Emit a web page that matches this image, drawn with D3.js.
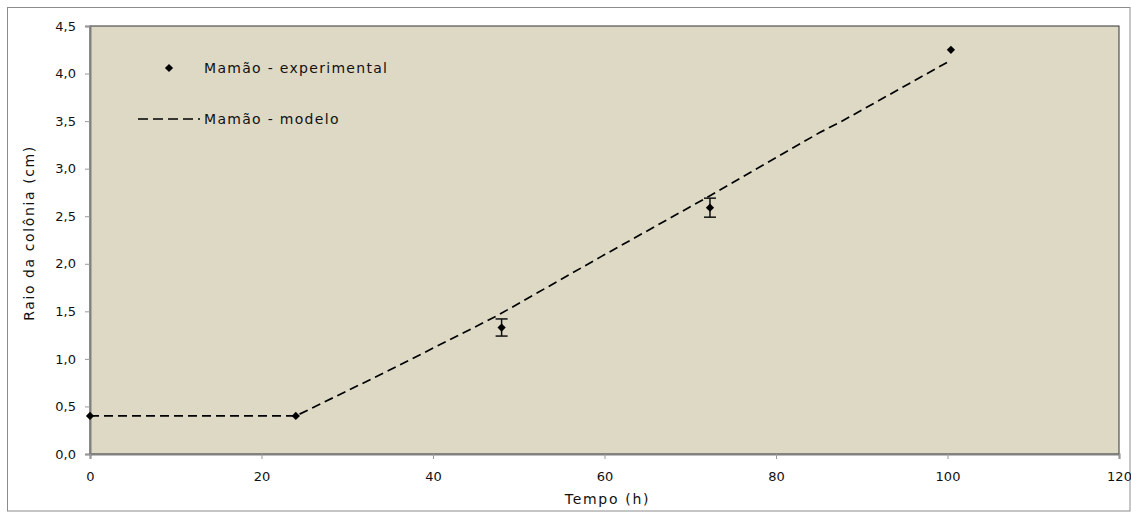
<!DOCTYPE html>
<html>
<head>
<meta charset="utf-8">
<script src="https://cdn.jsdelivr.net/npm/d3@7"></script>
<style>
  body { margin: 0; background: #fff; }
  text { font-family: "DejaVu Sans", Verdana, sans-serif; fill: #111; }
</style>
</head>
<body>
<div id="chart"></div>
<script>
// experimental points: time (h), radius (cm), error
var expTime = [0, 24, 48, 72.3, 100.4];
var expRaio = [0.4, 0.4, 1.33, 2.59, 4.25];
var expErro = [0, 0, 0.09, 0.1, 0];

// model curve
var modTime = [0, 24, 31.5, 36, 47.4, 59.5, 72, 85.1, 87.5, 100.4];
var modRaio = [0.4, 0.4, 0.73, 0.93, 1.45, 2.07, 2.7, 3.38, 3.49, 4.14];

var xTicks = [0, 20, 40, 60, 80, 100, 120];
var yTicks = [0, 0.5, 1, 1.5, 2, 2.5, 3, 3.5, 4, 4.5];

function init() {
    var w = 1131, h = 512;
    var left = 90, right = 1119, top = 26, bottom = 454;

    var svg = d3.select("#chart").append("svg")
        .attr("width", w).attr("height", h);

    // outer frame
    svg.append("rect")
        .attr("x", 7.5).attr("y", 7.5)
        .attr("width", 1130 - 7.5).attr("height", 511 - 7.5)
        .attr("fill", "#fff").attr("stroke", "#8c8c8c").attr("stroke-width", 1);

    var x = d3.scaleLinear().domain([0, 120]).range([left, right]);
    var y = d3.scaleLinear().domain([0, 4.5]).range([bottom, top]);

    // plot area
    svg.append("rect")
        .attr("x", left).attr("y", top)
        .attr("width", right - left).attr("height", bottom - top)
        .attr("fill", "#ddd9c4")
        .attr("stroke", "#333").attr("stroke-width", 1);

    var fmt = function(d) { return d3.format(".1f")(d).replace(".", ","); };

    var yAxis = svg.append("g")
        .attr("transform", "translate(" + left + ",0)")
        .call(d3.axisLeft(y).tickValues(yTicks).tickFormat(fmt).tickSize(5).tickPadding(9));
    var xAxis = svg.append("g")
        .attr("transform", "translate(0," + bottom + ")")
        .call(d3.axisBottom(x).tickValues(xTicks).tickFormat(d3.format("d")).tickSize(5).tickPadding(13));

    [yAxis, xAxis].forEach(function(a) {
        a.select(".domain").attr("stroke", "#808080").attr("stroke-width", 2);
        a.selectAll(".tick line").attr("stroke", "#999");
        a.selectAll(".tick text").style("font-size", "13px").attr("fill", "#111");
    });

    // model line
    var line = d3.line()
        .x(function(d, i) { return x(modTime[i]); })
        .y(function(d, i) { return y(modRaio[i]); });
    svg.append("path")
        .datum(modRaio)
        .attr("d", line)
        .attr("fill", "none")
        .attr("stroke", "#000")
        .attr("stroke-width", 1.7)
        .attr("stroke-dasharray", "9,5");

    // error bars
    var eb = svg.append("g").attr("stroke", "#111").attr("stroke-width", 1.5);
    expTime.forEach(function(t, i) {
        if (!expErro[i]) return;
        var cx = x(t), y1 = y(expRaio[i] + expErro[i]), y2 = y(expRaio[i] - expErro[i]);
        eb.append("line").attr("x1", cx).attr("x2", cx).attr("y1", y1).attr("y2", y2);
        eb.append("line").attr("x1", cx - 6).attr("x2", cx + 6).attr("y1", y1).attr("y2", y1);
        eb.append("line").attr("x1", cx - 6).attr("x2", cx + 6).attr("y1", y2).attr("y2", y2);
    });

    // experimental points (square turned 45 degrees)
    var diamond = d3.symbol().type(d3.symbolSquare).size(34);
    svg.selectAll("path.pt")
        .data(expRaio)
        .enter()
        .append("path")
        .attr("class", "pt")
        .attr("d", diamond)
        .attr("transform", function(d, i) {
            return "translate(" + x(expTime[i]) + "," + y(d) + ") rotate(45)";
        })
        .attr("fill", "#000");

    var txt = function(sel) {
        return sel.style("font-size", "14px").style("letter-spacing", "1.3px");
    };

    // legend
    svg.append("path").attr("d", diamond)
        .attr("transform", "translate(169,68) rotate(45)").attr("fill", "#000");
    svg.append("text").attr("x", 204).attr("y", 68).attr("dy", "0.35em")
        .call(txt).text("Mamão - experimental");
    svg.append("line").attr("x1", 138).attr("x2", 200).attr("y1", 119).attr("y2", 119)
        .attr("stroke", "#000").attr("stroke-width", 1.7).attr("stroke-dasharray", "10,5");
    svg.append("text").attr("x", 204).attr("y", 119).attr("dy", "0.35em")
        .call(txt).text("Mamão - modelo");

    // axis titles
    svg.append("text")
        .attr("x", (left + right) / 2 + 3).attr("y", 499).attr("dy", "0.35em")
        .attr("text-anchor", "middle")
        .call(txt).style("letter-spacing", "1.7px")
        .text("Tempo (h)");
    svg.append("text")
        .attr("transform", "translate(29,233) rotate(-90)")
        .attr("dy", "0.35em")
        .attr("text-anchor", "middle")
        .call(txt).style("letter-spacing", "1.6px")
        .text("Raio da colônia (cm)");
}

window.onload = init;
</script>
</body>
</html>
